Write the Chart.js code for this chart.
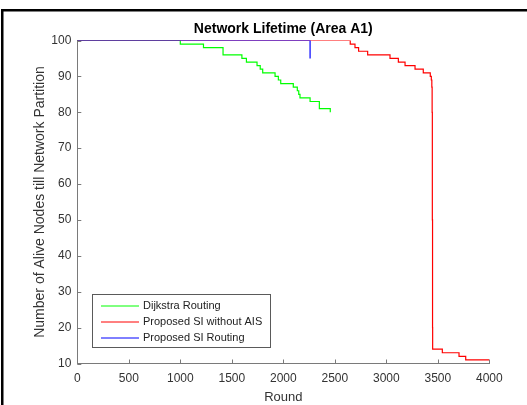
<!DOCTYPE html>
<html>
<head>
<meta charset="utf-8">
<title>Network Lifetime (Area A1)</title>
<script src="https://cdn.jsdelivr.net/npm/chart.js@4"></script>
<style>
    html, body { margin: 0; padding: 0; background: #fff; overflow: hidden; }
    canvas { display: block; }
</style>
</head>
<body>
<canvas id="lifetimeChart" width="527" height="405"></canvas>
<script>
// Each pair: round at which the alive count changes, and the new count
const dijkstraRounds = [0, 1000, 1225, 1415, 1598, 1642, 1745, 1776, 1800, 1920, 1952, 1975, 2097, 2136, 2150, 2162, 2260, 2350, 2456];
const dijkstraAlive  = [100, 99, 98, 96, 95, 94, 93, 92, 91, 90, 89, 88, 87, 86, 85, 84, 83, 81, 80];

const noAisRounds = [0, 2650, 2696, 2731, 2819, 3036, 3117, 3182, 3279, 3359, 3427, 3437, 3442, 3445, 3447, 3449, 3450, 3544, 3706, 3771, 4000];
const noAisAlive  = [100, 99, 98, 97, 96, 95, 94, 93, 92, 91, 90, 89, 87, 80, 50, 20, 14, 13, 12, 11, 11];

const siRounds = [0, 2260];
const siAlive  = [100, 95];

const seriesLabels = ['Dijkstra Routing', 'Proposed SI without AIS', 'Proposed SI Routing'];
const seriesColors = ['rgb(0,255,0)', 'rgb(255,0,0)', 'rgb(0,0,255)'];

const roundTicks = [0, 500, 1000, 1500, 2000, 2500, 3000, 3500, 4000];
const aliveTicks = [10, 20, 30, 40, 50, 60, 70, 80, 90, 100];

const toPoints = (xs, ys) => xs.map((x, i) => ({ x: x, y: ys[i] }));

const axisColor = '#7a7a7a';
const labelColor = '#333';

// black frame lines round the figure (top and left)
const framePlugin = {
    id: 'frame',
    beforeDraw(chart) {
        const ctx = chart.ctx;
        ctx.save();
        ctx.strokeStyle = '#000';
        ctx.lineWidth = 2.5;
        ctx.lineCap = 'butt';
        ctx.beginPath();
        ctx.moveTo(2.25, 405);
        ctx.lineTo(2.25, 10.25);
        ctx.lineTo(527, 10.25);
        ctx.stroke();
        ctx.restore();
    }
};

// matlab style ticks pointing into the plot
const innerTicks = {
    id: 'innerTicks',
    afterDraw(chart) {
        const { ctx, chartArea } = chart;
        const xs = chart.scales.x;
        const ys = chart.scales.y;
        ctx.save();
        ctx.strokeStyle = axisColor;
        ctx.lineWidth = 1;
        ctx.beginPath();
        xs.ticks.forEach(t => {
            const px = Math.round(xs.getPixelForValue(t.value)) + 0.5;
            ctx.moveTo(px, chartArea.bottom);
            ctx.lineTo(px, chartArea.bottom - 4);
        });
        ys.ticks.forEach(t => {
            const py = Math.round(ys.getPixelForValue(t.value)) + 0.5;
            ctx.moveTo(chartArea.left, py);
            ctx.lineTo(chartArea.left + 4, py);
        });
        ctx.stroke();
        ctx.restore();
    }
};

// boxed legend in the lower left of the plot
const legendBox = {
    id: 'legendBox',
    afterDraw(chart) {
        const ctx = chart.ctx;
        const left = 92.5, top = 294.5, w = 178, h = 53;
        ctx.save();
        ctx.fillStyle = '#fff';
        ctx.fillRect(left, top, w, h);
        ctx.strokeStyle = '#5a5a5a';
        ctx.lineWidth = 1;
        ctx.strokeRect(left, top, w, h);
        ctx.font = '11px "Liberation Sans", Arial, sans-serif';
        ctx.textBaseline = 'middle';
        ctx.textAlign = 'left';
        chart.data.datasets.forEach((ds, i) => {
            const y = top + 11.5 + i * 16;
            ctx.strokeStyle = ds.borderColor;
            ctx.beginPath();
            ctx.moveTo(101, y);
            ctx.lineTo(139, y);
            ctx.stroke();
            ctx.fillStyle = '#222';
            ctx.fillText(ds.label, 143, y);
        });
        ctx.restore();
    }
};

Chart.defaults.font.family = '"Liberation Sans", Arial, sans-serif';

const makeDataset = (i, xs, ys, order) => ({
    label: seriesLabels[i],
    data: toPoints(xs, ys),
    borderColor: seriesColors[i],
    backgroundColor: seriesColors[i],
    borderWidth: 1.2,
    pointRadius: 0,
    stepped: 'before',
    fill: false,
    order: order
});

new Chart(document.getElementById('lifetimeChart'), {
    type: 'line',
    data: {
        datasets: [
            makeDataset(0, dijkstraRounds, dijkstraAlive, 2),
            makeDataset(1, noAisRounds, noAisAlive, 1),
            makeDataset(2, siRounds, siAlive, 0)
        ]
    },
    options: {
        responsive: false,
        animation: false,
        devicePixelRatio: 1,
        layout: { padding: { left: 0, right: 37.7, top: 0, bottom: 0 } },
        plugins: {
            legend: { display: false },
            tooltip: { enabled: false },
            title: {
                display: true,
                fullSize: false,
                text: 'Network Lifetime (Area A1)',
                color: '#000',
                font: { size: 14, weight: 'bold' },
                padding: { top: 21, bottom: 2.7 }
            }
        },
        scales: {
            x: {
                type: 'linear',
                min: 0,
                max: 4000,
                afterBuildTicks: (scale) => { scale.ticks = roundTicks.map(v => ({ value: v })); },
                afterFit: (scale) => { scale.height = 41.5; },
                grid: { display: true, drawOnChartArea: false, drawTicks: false },
                border: { display: true, color: axisColor, width: 1 },
                ticks: {
                    color: labelColor,
                    font: { size: 12 },
                    padding: 8,
                    maxRotation: 0,
                    autoSkip: false,
                    callback: (v) => String(v)
                },
                title: {
                    display: true,
                    text: 'Round',
                    color: labelColor,
                    font: { size: 13 },
                    padding: { top: 0, bottom: 0 }
                }
            },
            y: {
                type: 'linear',
                min: 10,
                max: 100,
                afterBuildTicks: (scale) => { scale.ticks = aliveTicks.map(v => ({ value: v })); },
                afterFit: (scale) => { scale.width = 77.3; },
                grid: { display: true, drawOnChartArea: false, drawTicks: false },
                border: { display: true, color: axisColor, width: 1 },
                ticks: {
                    color: labelColor,
                    font: { size: 12 },
                    padding: 6,
                    autoSkip: false,
                    callback: (v) => String(v)
                },
                title: {
                    display: true,
                    text: 'Number of Alive Nodes till Network Partition',
                    color: labelColor,
                    font: { size: 14 },
                    padding: { top: 31.6, bottom: 0 }
                }
            }
        }
    },
    plugins: [framePlugin, innerTicks, legendBox]
});
</script>
</body>
</html>
